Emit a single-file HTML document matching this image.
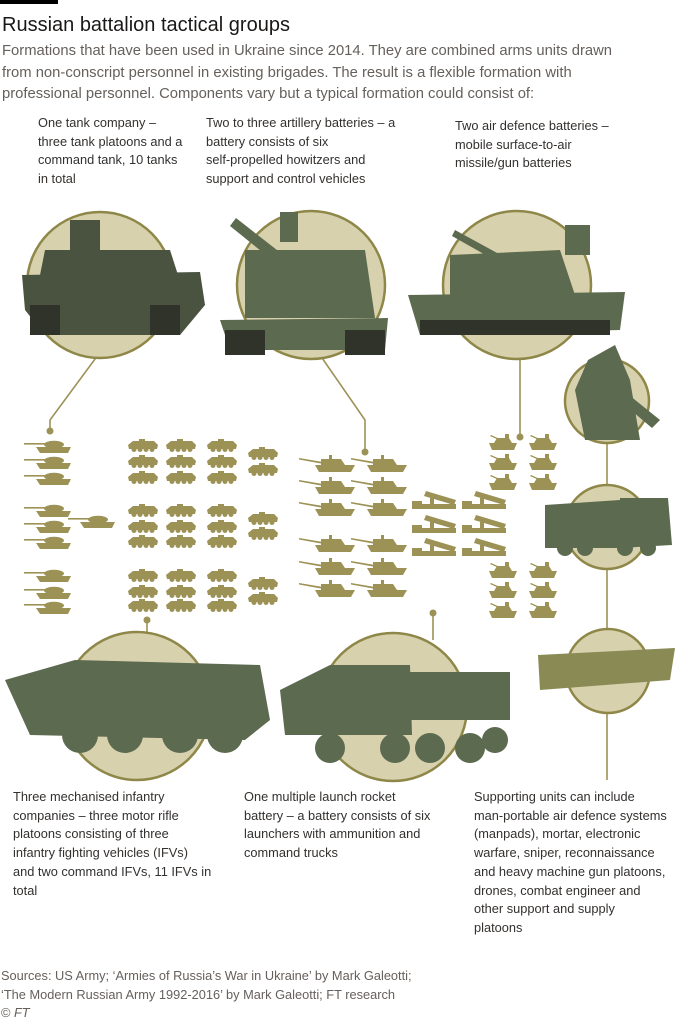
<!DOCTYPE html>
<html><head><meta charset="utf-8"><style>
body{margin:0;width:683px;height:1024px;background:#fff;position:relative;overflow:hidden;font-family:"Liberation Sans Narrow","Liberation Sans",sans-serif;color:#33302e}
.t{position:absolute;font-size:12.8px;line-height:18.7px;color:#33302e}
svg{position:absolute;left:0;top:0}
</style></head><body>
<svg width="683" height="1024" viewBox="0 0 683 1024">
<defs>
<g id="tank" fill="#9c9256"><rect x="0" y="3" width="22" height="1.6"/><ellipse cx="30" cy="4.5" rx="10" ry="3.8"/><path d="M12 7 L47 7 L44 13 L16 13 Z"/></g>
<g id="ifv" fill="#9c9256"><path d="M1 6 L6 2 L27 2 L31 6 L30 10 L2 10 Z"/><circle cx="7" cy="10.5" r="2.5"/><circle cx="13" cy="10.5" r="2.5"/><circle cx="19" cy="10.5" r="2.5"/><circle cx="25" cy="10.5" r="2.5"/><rect x="12" y="0" width="6" height="3"/></g>
<g id="how" fill="#9c9256"><path d="M0 3 L30 8 L30 10 L0 4.5 Z"/><path d="M22 4 L42 4 L46 10 L22 10 Z"/><path d="M16 10 L56 10 L52 17 L20 17 Z"/><rect x="30" y="0" width="3" height="5"/></g>
<g id="mlrs" fill="#9c9256"><path d="M14 1 L44 10 L42 15 L12 6 Z"/><path d="M0 11 L10 11 L10 14 L44 14 L44 19 L0 19 Z"/><rect x="18" y="8" width="4" height="6"/></g>
<g id="ad" fill="#9c9256"><path d="M2 9 L30 9 L27 16 L5 16 Z"/><path d="M7 9 L10 4 L22 4 L25 9 Z"/><path d="M4 1 L13 5 L12 6 L3 2 Z"/><rect x="18" y="0" width="4" height="5"/></g>
</defs>
<rect x="0" y="0" width="58" height="4" fill="#000"/>
<g stroke="#9c9256" stroke-width="1.6" fill="none">
<polyline points="98,355 50,420 50,430"/>
<polyline points="320,355 365,420 365,452"/>
<line x1="520" y1="355" x2="520" y2="437"/>
<line x1="607" y1="440" x2="607" y2="486"/>
<line x1="607" y1="568" x2="607" y2="630"/>
<line x1="607" y1="712" x2="607" y2="780"/>
<line x1="433" y1="613" x2="433" y2="640"/>
<line x1="147" y1="620" x2="147" y2="632"/>
</g>
<g fill="#9c9256"><circle cx="50" cy="431" r="3.5"/><circle cx="365" cy="452" r="3.5"/><circle cx="520" cy="437" r="3.5"/><circle cx="433" cy="613" r="3.5"/><circle cx="147" cy="620" r="3.5"/></g>
<g fill="#d8d1ae" stroke="#8e8748" stroke-width="2.5">
<circle cx="100" cy="285" r="73"/><circle cx="311" cy="285" r="74"/><circle cx="517" cy="285" r="74"/>
<circle cx="607" cy="401" r="42"/><circle cx="607" cy="527" r="42"/><circle cx="608" cy="671" r="42"/>
<circle cx="137" cy="706" r="74"/><circle cx="393" cy="707" r="74"/>
</g>
<g fill="#4a5240">
<path d="M22 275 L200 272 L205 305 L180 335 L45 335 L25 310 Z"/><path d="M45 250 L170 250 L178 275 L40 275 Z"/><rect x="70" y="220" width="30" height="30"/>
</g>
<g fill="#5c6a4f">
<path d="M220 320 L388 318 L385 350 L230 350 Z"/><path d="M245 250 L365 250 L375 318 L245 318 Z"/><path d="M236 218 L300 268 L292 276 L230 226 Z"/><rect x="280" y="212" width="18" height="30"/>
<path d="M408 295 L625 292 L620 330 L420 335 Z"/><path d="M450 255 L560 250 L575 295 L450 295 Z"/><path d="M455 230 L510 260 L505 266 L452 236 Z"/><rect x="565" y="225" width="25" height="30"/>
<path d="M588 360 L615 345 L630 380 L640 440 L585 440 L575 390 Z"/><path d="M598 370 L660 420 L652 428 L593 378 Z"/>
<path d="M545 505 L620 500 L620 548 L545 548 Z"/><path d="M620 498 L668 498 L672 545 L620 548 Z"/><circle cx="565" cy="548" r="8"/><circle cx="585" cy="548" r="8"/><circle cx="625" cy="548" r="8"/><circle cx="648" cy="548" r="8"/>
<path d="M5 680 L75 660 L260 665 L270 720 L245 740 L30 735 Z"/><rect x="85" y="670" width="50" height="22"/><circle cx="80" cy="735" r="18"/><circle cx="125" cy="735" r="18"/><circle cx="180" cy="735" r="18"/><circle cx="225" cy="735" r="18"/>
<path d="M280 690 L330 665 L410 665 L412 735 L285 735 Z"/><path d="M410 672 L510 672 L510 720 L410 720 Z"/><circle cx="330" cy="748" r="15"/><circle cx="395" cy="748" r="15"/><circle cx="430" cy="748" r="15"/><circle cx="470" cy="748" r="15"/><circle cx="495" cy="740" r="13"/>
</g>
<path d="M538 655 L675 648 L670 680 L540 690 Z" fill="#8a8a55"/>
<g fill="#2f3329"><rect x="30" y="305" width="30" height="30"/><rect x="150" y="305" width="30" height="30"/><rect x="225" y="330" width="40" height="25"/><rect x="345" y="330" width="40" height="25"/><rect x="420" y="320" width="190" height="15"/></g>
<g>
<use href="#tank" transform="translate(24,440)"/><use href="#tank" transform="translate(24,456)"/><use href="#tank" transform="translate(24,472)"/>
<use href="#tank" transform="translate(24,504)"/><use href="#tank" transform="translate(24,520)"/><use href="#tank" transform="translate(24,536)"/>
<use href="#tank" transform="translate(24,569)"/><use href="#tank" transform="translate(24,586)"/><use href="#tank" transform="translate(24,601)"/>
<use href="#tank" transform="translate(68,515)"/>
</g>
<g>
<use href="#ifv" transform="translate(127,439)"/><use href="#ifv" transform="translate(165,439)"/><use href="#ifv" transform="translate(206,439)"/>
<use href="#ifv" transform="translate(127,455)"/><use href="#ifv" transform="translate(165,455)"/><use href="#ifv" transform="translate(206,455)"/>
<use href="#ifv" transform="translate(127,471)"/><use href="#ifv" transform="translate(165,471)"/><use href="#ifv" transform="translate(206,471)"/>
<use href="#ifv" transform="translate(127,504)"/><use href="#ifv" transform="translate(165,504)"/><use href="#ifv" transform="translate(206,504)"/>
<use href="#ifv" transform="translate(127,520)"/><use href="#ifv" transform="translate(165,520)"/><use href="#ifv" transform="translate(206,520)"/>
<use href="#ifv" transform="translate(127,535)"/><use href="#ifv" transform="translate(165,535)"/><use href="#ifv" transform="translate(206,535)"/>
<use href="#ifv" transform="translate(127,569)"/><use href="#ifv" transform="translate(165,569)"/><use href="#ifv" transform="translate(206,569)"/>
<use href="#ifv" transform="translate(127,585)"/><use href="#ifv" transform="translate(165,585)"/><use href="#ifv" transform="translate(206,585)"/>
<use href="#ifv" transform="translate(127,599)"/><use href="#ifv" transform="translate(165,599)"/><use href="#ifv" transform="translate(206,599)"/>
<use href="#ifv" transform="translate(247,447)"/><use href="#ifv" transform="translate(247,463)"/>
<use href="#ifv" transform="translate(247,512)"/><use href="#ifv" transform="translate(247,527)"/>
<use href="#ifv" transform="translate(247,577)"/><use href="#ifv" transform="translate(247,592)"/>
</g>
<g>
<use href="#how" transform="translate(299,455)"/><use href="#how" transform="translate(351,455)"/>
<use href="#how" transform="translate(299,477)"/><use href="#how" transform="translate(351,477)"/>
<use href="#how" transform="translate(299,499)"/><use href="#how" transform="translate(351,499)"/>
<use href="#how" transform="translate(299,535)"/><use href="#how" transform="translate(351,535)"/>
<use href="#how" transform="translate(299,558)"/><use href="#how" transform="translate(351,558)"/>
<use href="#how" transform="translate(299,580)"/><use href="#how" transform="translate(351,580)"/>
</g>
<g>
<use href="#mlrs" transform="translate(412,490)"/><use href="#mlrs" transform="translate(462,490)"/>
<use href="#mlrs" transform="translate(412,514)"/><use href="#mlrs" transform="translate(462,514)"/>
<use href="#mlrs" transform="translate(412,537)"/><use href="#mlrs" transform="translate(462,537)"/>
</g>
<g>
<use href="#ad" transform="translate(487,434)"/><use href="#ad" transform="translate(527,434)"/>
<use href="#ad" transform="translate(487,454)"/><use href="#ad" transform="translate(527,454)"/>
<use href="#ad" transform="translate(487,474)"/><use href="#ad" transform="translate(527,474)"/>
<use href="#ad" transform="translate(487,562)"/><use href="#ad" transform="translate(527,562)"/>
<use href="#ad" transform="translate(487,582)"/><use href="#ad" transform="translate(527,582)"/>
<use href="#ad" transform="translate(487,602)"/><use href="#ad" transform="translate(527,602)"/>
</g>
</svg>
<div class="t" style="left:2px;top:11px;font-size:20px;line-height:28px;color:#1a1817">Russian battalion tactical groups</div>
<div class="t" style="left:2px;top:41px;font-size:14.8px;line-height:21.6px;color:#66605c;width:680px">Formations that have been used in Ukraine since 2014. They are combined arms units drawn<br>from non-conscript personnel in existing brigades. The result is a flexible formation with<br>professional personnel. Components vary but a typical formation could consist of:</div>
<div class="t" style="left:38px;top:114px">One tank company –<br>three tank platoons and a<br>command tank, 10 tanks<br>in total</div>
<div class="t" style="left:206px;top:114px">Two to three artillery batteries – a<br>battery consists of six<br>self-propelled howitzers and<br>support and control vehicles</div>
<div class="t" style="left:455px;top:117px">Two air defence batteries –<br>mobile surface-to-air<br>missile/gun batteries</div>
<div class="t" style="left:13px;top:788px">Three mechanised infantry<br>companies – three motor rifle<br>platoons consisting of three<br>infantry fighting vehicles (IFVs)<br>and two command IFVs, 11 IFVs in<br>total</div>
<div class="t" style="left:244px;top:788px">One multiple launch rocket<br>battery – a battery consists of six<br>launchers with ammunition and<br>command trucks</div>
<div class="t" style="left:474px;top:788px">Supporting units can include<br>man-portable air defence systems<br>(manpads), mortar, electronic<br>warfare, sniper, reconnaissance<br>and heavy machine gun platoons,<br>drones, combat engineer and<br>other support and supply<br>platoons</div>
<div class="t" style="left:1px;top:967px;color:#66605c">Sources: US Army; ‘Armies of Russia’s War in Ukraine’ by Mark Galeotti;<br>‘The Modern Russian Army 1992-2016’ by Mark Galeotti; FT research<br>© <i>FT</i></div>
</body></html>
